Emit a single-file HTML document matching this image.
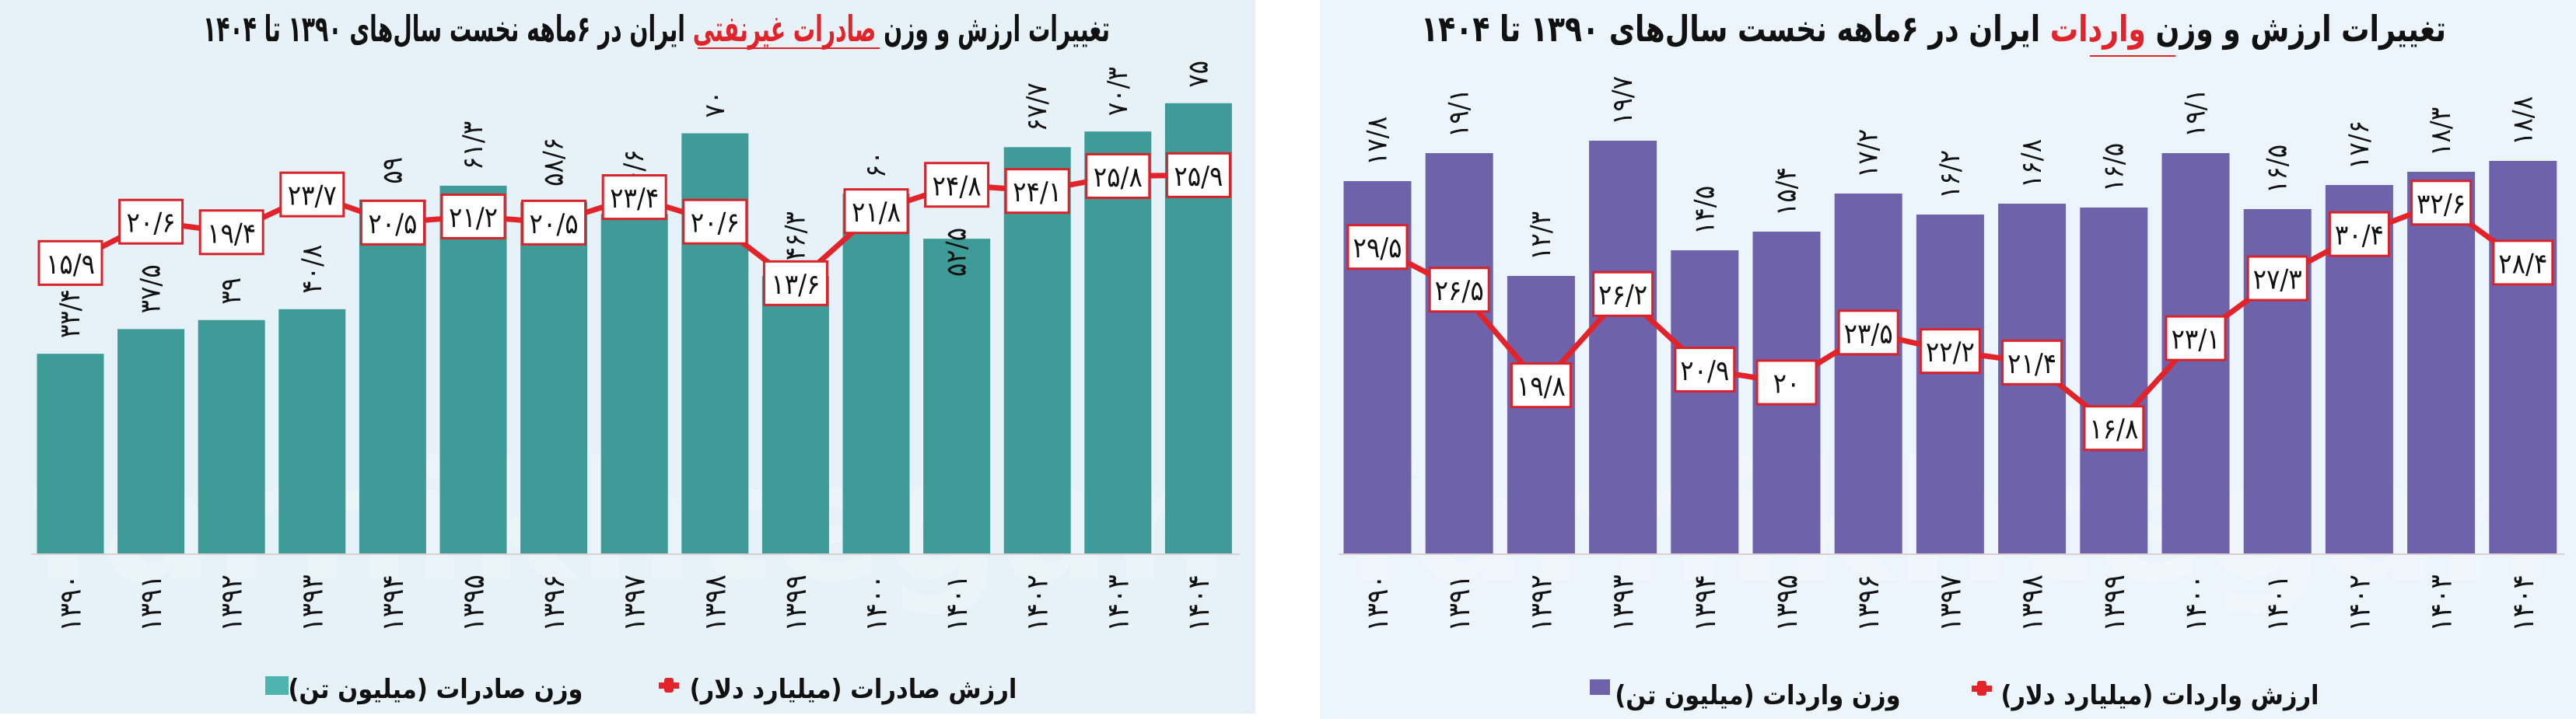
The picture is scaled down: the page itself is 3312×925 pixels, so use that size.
<!DOCTYPE html>
<html><head><meta charset="utf-8">
<style>
html,body{margin:0;padding:0;background:#fff;width:3312px;height:925px;overflow:hidden;position:relative}
svg{display:block;position:absolute;left:0;top:0}
text{font-family:"DejaVu Sans","Liberation Sans",sans-serif;font-stretch:condensed}
.lg{position:absolute;width:500px;text-align:center;font-family:"DejaVu Sans","Liberation Sans",sans-serif;font-stretch:condensed;font-weight:bold;font-size:34px;color:#111;direction:rtl;white-space:nowrap;line-height:40px}
</style></head><body>
<svg id="s" width="3312" height="925" viewBox="0 0 3312 925" xmlns="http://www.w3.org/2000/svg">
<rect x="0" y="0" width="1614" height="918" fill="#e7f2f8"/>
<rect x="1697" y="0" width="1615" height="925" fill="#edf5fc"/>
<g id="L"></g>
<g id="R"></g>
</svg>
<div class="lg" style="left:310px;top:867px">وزن صادرات (میلیون تن)</div>
<div class="lg" style="left:847px;top:867px">ارزش صادرات (میلیارد دلار)</div>
<div class="lg" style="left:2010px;top:875px">وزن واردات (میلیون تن)</div>
<div class="lg" style="left:2527px;top:875px">ارزش واردات (میلیارد دلار)</div>
<script>
const NS="http://www.w3.org/2000/svg";
function fa(s){return String(s).replace(/\d/g,d=>"۰۱۲۳۴۵۶۷۸۹"[d]).replace(/\./g,"/");}
function el(p,tag,attrs,txt){const e=document.createElementNS(NS,tag);for(const k in attrs)e.setAttribute(k,attrs[k]);if(txt!==undefined)e.textContent=txt;p.appendChild(e);return e;}
const years=[];for(let y=1390;y<=1404;y++)years.push(fa(y));
function chart(g,o){
  el(g,"text",{x:o.wmx,y:745,"font-size":210,"font-weight":"bold",fill:"#ffffff","fill-opacity":"0.16",textLength:o.wmw,lengthAdjust:"spacingAndGlyphs",style:"font-stretch:normal"},"farhikhtegan");
  el(g,"line",{x1:o.x0-50,y1:713,x2:o.x0+o.p*14+o.w/2+10,y2:713,stroke:"#d9cfd0","stroke-width":2});
  const pts=[];
  for(let i=0;i<15;i++){
    const cx=o.x0+o.p*i;const top=o.tops[i];
    el(g,"rect",{x:cx-o.w/2,y:top,width:o.w,height:712-top,fill:o.col});
    const lb=(o.lb&&o.lb[i])||top-20;
    el(g,"text",{transform:`translate(${cx},${lb}) rotate(-90)`,"text-anchor":"start","dominant-baseline":"central","font-size":36,fill:"#111",direction:"ltr"},fa(o.wv[i]));
    el(g,"text",{transform:`translate(${cx},776) rotate(-90)`,"text-anchor":"middle","dominant-baseline":"central","font-size":38,fill:"#111",direction:"ltr"},years[i]);
    pts.push([cx,o.a-o.b*o.vv[i]]);
  }
  el(g,"polyline",{points:pts.map(p=>p.join(",")).join(" "),fill:"none",stroke:"#e3232a","stroke-width":7,"stroke-linejoin":"round"});
  pts.forEach((p,i)=>{
    el(g,"rect",{x:p[0]-o.bw/2,y:p[1]-28,width:o.bw,height:56,fill:"#fff",stroke:"#d9232a","stroke-width":3});
    el(g,"text",{x:p[0],y:p[1]+2,"text-anchor":"middle","dominant-baseline":"central","font-size":36,fill:"#111",direction:"ltr"},fa(o.vv[i]));
  });
}
const L=document.getElementById("L"),R=document.getElementById("R");
const wl=[33.4,37.5,39,40.8,59,61.3,58.6,56.6,70,46.3,60,52.5,67.7,70.3,75];
chart(L,{x0:90.5,p:103.6,w:86,col:"#3e9b98",tops:wl.map(v=>714-7.75*v),wv:wl,
 vv:[15.9,20.6,19.4,23.7,20.5,21.2,20.5,23.4,20.6,13.6,21.8,24.8,24.1,25.8,25.9],a:518,b:11.3,bw:81,
 lb:{11:356},wmx:40,wmw:1540});
chart(R,{x0:1771,p:105.2,w:87,col:"#6e63ab",tops:[233,197,355,181,322,298,249,276,262,267,197,269,238,221,207],
 wv:[17.8,19.1,12.3,19.7,14.5,15.4,17.2,16.2,16.8,16.5,19.1,16.5,17.6,18.3,18.8],
 vv:[29.5,26.5,19.8,26.2,20.9,20,23.5,22.2,21.4,16.8,23.1,27.3,30.4,32.6,28.4],a:859,b:18.35,bw:76,wmx:1725,wmw:1560});
function title(g,x,y,pre,red,post,w){
  const t=el(g,"text",{x:x,y:y,"text-anchor":"middle","dominant-baseline":"central","font-size":46,"font-weight":"bold",fill:"#111",direction:"rtl",textLength:w,lengthAdjust:"spacingAndGlyphs"});
  el(t,"tspan",{},pre);el(t,"tspan",{fill:"#e3232a"},red);el(t,"tspan",{},post);
}
title(L,844,37,"تغییرات ارزش و وزن ","صادرات غیرنفتی"," ایران در ۶ماهه نخست سال‌های ۱۳۹۰ تا ۱۴۰۴",1166);
title(R,2486,37,"تغییرات ارزش و وزن ","واردات"," ایران در ۶ماهه نخست سال‌های ۱۳۹۰ تا ۱۴۰۴",1318);
el(L,"line",{x1:897,y1:62,x2:1131,y2:62,stroke:"#e3232a","stroke-width":2});
el(R,"line",{x1:2687,y1:72,x2:2797,y2:72,stroke:"#e3232a","stroke-width":2});
function mark(g,sq,col,mk,y,s){
  el(g,"rect",{x:sq,y:y-30,width:s,height:s-6,fill:col});
  el(g,"rect",{x:mk,y:y-22,width:26,height:8,fill:"#e3232a"});
  el(g,"rect",{x:mk+7,y:y-28,width:12,height:19,rx:3,fill:"#e3232a"});
}
mark(L,341,"#4fb3ae",847,900,30);
mark(R,2044,"#6e63ab",2535,904,26);
</script>
</body></html>
